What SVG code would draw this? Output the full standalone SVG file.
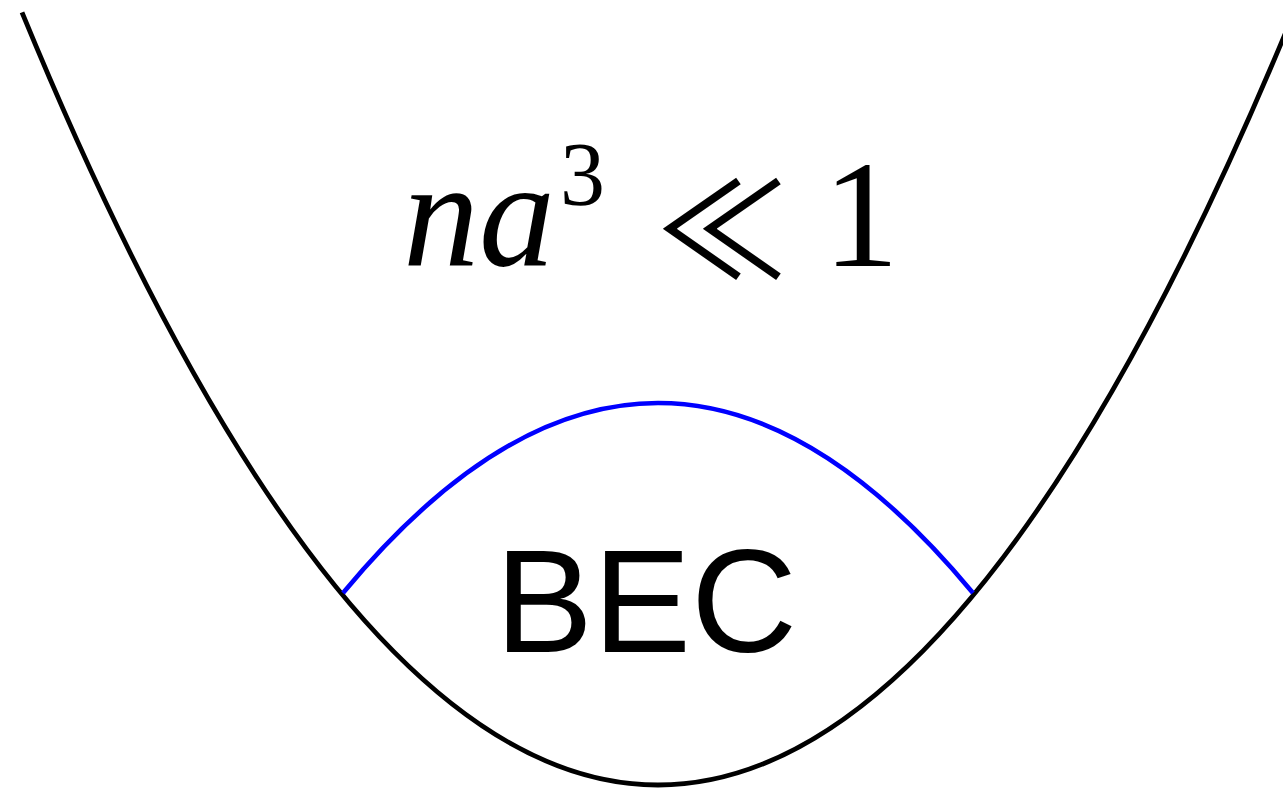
<svg xmlns="http://www.w3.org/2000/svg" width="1283" height="792" viewBox="0 0 1283 792">
<style>
.well{fill:none;stroke:#000;stroke-width:4.8;stroke-linecap:butt}
.cloud{fill:none;stroke:#0000ff;stroke-width:4.6}
.math{font-family:"Liberation Serif","DejaVu Serif",serif;fill:#000}
.it{font-style:italic}
.rel{font-family:"Noto Sans CJK JP","Noto Sans CJK SC",sans-serif;font-weight:400;fill:#000}
.lbl{font-family:"Liberation Sans",Arial,sans-serif;fill:#000}
</style>
<rect width="1283" height="792" fill="#fff"/>
<g id="trap">
<path class="well" d="M22,12.4 Q340,785 658,785 Q976,785 1294,12.4"/>
</g>
<g id="condensate">
<path class="cloud" d="M343,593 Q658,213 973,593"/>
</g>
<g id="formula">
<text class="math it" x="403" y="265" font-size="152">na</text>
<text class="math" x="560" y="205" font-size="90">3</text>
<text class="rel" x="722" y="278" font-size="132" text-anchor="middle">≪</text>
<text class="math" x="861" y="266" font-size="152" text-anchor="middle">1</text>
</g>
<g id="bec-label">
<text class="lbl" x="495" y="652" font-size="147">BEC</text>
</g>
</svg>
